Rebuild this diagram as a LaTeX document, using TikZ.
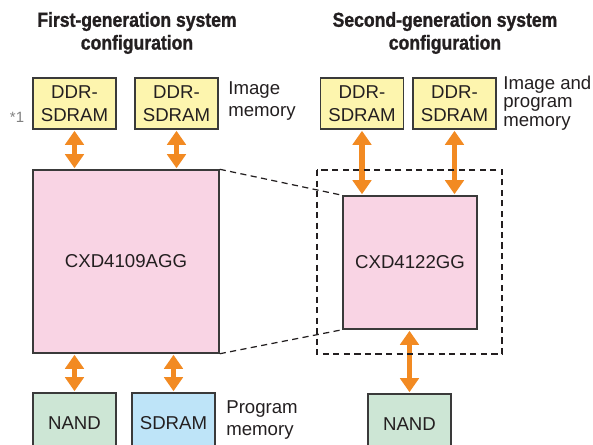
\documentclass[tikz,border=0pt]{standalone}
\usepackage{fontspec}
\setmainfont{Liberation Sans}
\newfontfamily\titlefont[FakeStretch=0.87,FakeBold=1.2]{Liberation Sans}
\usetikzlibrary{arrows.meta,positioning}

\definecolor{memyellow}{HTML}{FDF5AE}
\definecolor{chippink}{HTML}{F9D4E4}
\definecolor{nandgreen}{HTML}{CDE6D5}
\definecolor{sdramblue}{HTML}{BEE4F8}
\definecolor{busorange}{HTML}{F28A22}
\definecolor{edgegray}{HTML}{3A3A3A}
\definecolor{inkgray}{HTML}{231F20}

\begin{document}
\begin{tikzpicture}[x=0.02cm, y=-0.02cm,
    every node/.style={text=inkgray, font=\fontsize{10.6}{12.8}\selectfont},
    chip/.style={draw=edgegray, line width=0.85pt, inner sep=0pt, align=center},
    mem/.style={chip, fill=memyellow, minimum width=1.66cm, minimum height=1.02cm},
    nand/.style={chip, fill=nandgreen, minimum width=1.66cm, minimum height=1.2cm},
    sdram/.style={chip, fill=sdramblue, minimum width=1.66cm, minimum height=1.2cm},
    note/.style={anchor=west, align=left, inner sep=0pt},
    title/.style={align=center, inner sep=0pt, font=\titlefont\bfseries\fontsize{11.5}{13}\selectfont},
    bus/.style={{Triangle[width=10.5pt,length=8pt]}-{Triangle[width=10.5pt,length=8pt]},
        line width=3.3pt, draw=busorange, shorten >=0.6pt, shorten <=0.6pt},
    zoomline/.style={dashed, dash pattern=on 3.5pt off 2.5pt, draw=inkgray, line width=0.7pt}
        ]

    \clip (0,0) rectangle (593,444);

    % first generation
    \node [title] (titleA) at (137,33) {First-generation system\\configuration};

    \node [mem] (ddrA) at (74.5,103.5) {DDR-\\SDRAM};
    \node [mem] (ddrB) at (176.5,103.5) {DDR-\\SDRAM};
    \node [chip, fill=chippink, minimum width=3.72cm, minimum height=3.66cm]
        (cxdA) at (126,261.5) {CXD4109AGG};
    \node [nand] (nandA) at (74.5,423) {NAND};
    \node [sdram] (sdramA) at (173.5,423) {SDRAM};

    \node [note] (imgmem) at (228,101) {Image\\memory};
    \node [note] (progmem) at (226,420) {Program\\memory};
    \node [inner sep=0pt, text=gray, font=\fontsize{8.5}{9}\selectfont] (star) at (17,117) {*1};

    \draw [bus] (ddrA.south) -- (ddrA |- cxdA.north);
    \draw [bus] (ddrB.south) -- (ddrB |- cxdA.north);
    \draw [bus] (nandA.north) -- (nandA |- cxdA.south);
    \draw [bus] (sdramA.north) -- (sdramA |- cxdA.south);

    % second generation
    \node [title] (titleB) at (445,33) {Second-generation system\\configuration};

    \node [mem] (ddrC) at (362,103.5) {DDR-\\SDRAM};
    \node [mem] (ddrD) at (454.5,103.5) {DDR-\\SDRAM};
    \node [chip, fill=chippink, minimum width=2.68cm, minimum height=2.66cm]
        (cxdB) at (410,262.5) {CXD4122GG};
    \node [nand] (nandB) at (409.5,424) {NAND};

    \node [note, font=\fontsize{10.6}{10.6}\selectfont] (imgprogmem) at (503,103)
        {Image and\\program\\memory};

    \draw [bus] (ddrC.south) -- (ddrC |- cxdB.north);
    \draw [bus] (ddrD.south) -- (ddrD |- cxdB.north);
    \draw [bus] (nandB.north) -- (nandB |- cxdB.south);

    % zoom frame
    \draw [zoomline] (317,170) rectangle (502,354);
    \draw [zoomline] (cxdA.north east) -- (cxdB.north west);
    \draw [zoomline] (cxdA.south east) -- (cxdB.south west);

\end{tikzpicture}
\end{document}
